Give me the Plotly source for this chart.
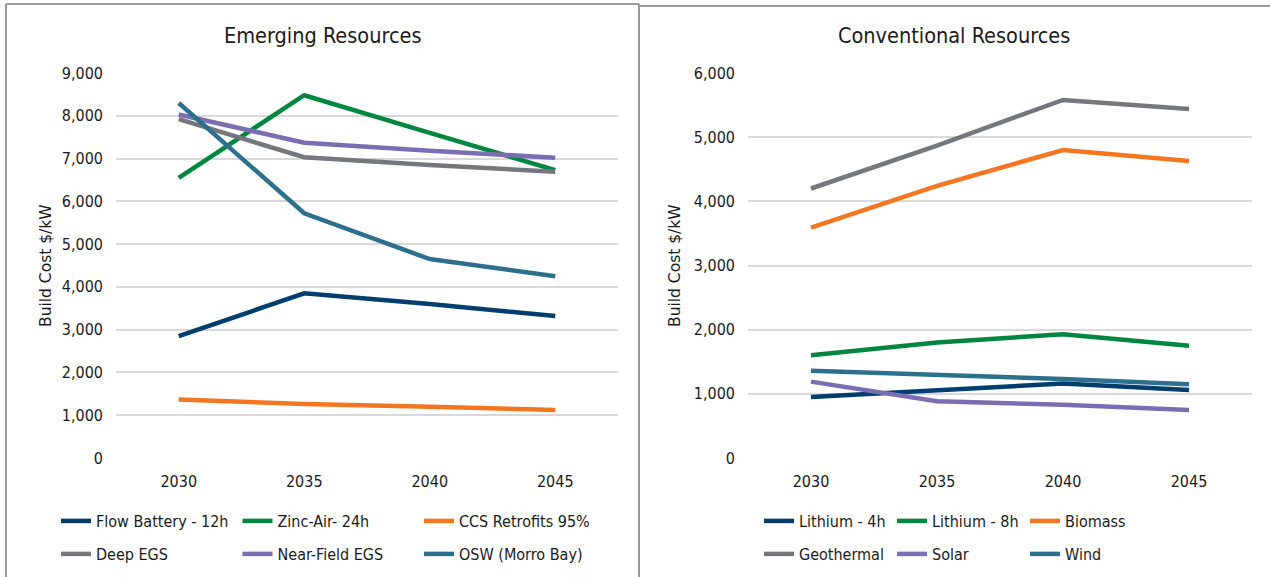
import plotly.graph_objects as go

# Category axis (build years)
years = ["2030", "2035", "2040", "2045"]

# Emerging resources, build cost $/kW
flow_battery_12h = [2850, 3850, 3600, 3320]
zinc_air_24h = [6550, 8480, 7600, 6730]
ccs_retrofits_95 = [1370, 1260, 1200, 1120]
deep_egs = [7920, 7030, 6850, 6690]
near_field_egs = [8030, 7370, 7180, 7020]
osw_morro_bay = [8300, 5720, 4650, 4250]

# Conventional resources, build cost $/kW
lithium_4h = [950, 1050, 1160, 1060]
lithium_8h = [1600, 1800, 1930, 1750]
biomass = [3590, 4240, 4800, 4630]
geothermal = [4200, 4870, 5580, 5440]
solar = [1190, 885, 830, 750]
wind = [1360, 1300, 1230, 1150]

emerging_ticks = list(range(0, 9001, 1000))
conventional_ticks = list(range(0, 6001, 1000))

NAVY = "#023E6D"
GREEN = "#00873F"
ORANGE = "#F47621"
GRAY = "#74777E"
PURPLE = "#7B6DB4"
TEAL = "#2D708E"

W, H = 1270, 577
FONT = "DejaVu Sans Condensed, Liberation Sans, sans-serif"
FONT_WIDE = "DejaVu Sans, sans-serif"
TEXT = "#1a1a1a"


def px_x(p):
    return p / W


def px_y(p):
    return 1 - p / H


fig = go.Figure()

emerging = [
    ("Flow Battery - 12h", flow_battery_12h, NAVY, "legend"),
    ("Zinc-Air- 24h", zinc_air_24h, GREEN, "legend"),
    ("CCS Retrofits 95%", ccs_retrofits_95, ORANGE, "legend"),
    ("Deep EGS", deep_egs, GRAY, "legend2"),
    ("Near-Field EGS", near_field_egs, PURPLE, "legend2"),
    ("OSW (Morro Bay)", osw_morro_bay, TEAL, "legend2"),
]
conventional = [
    ("Lithium - 4h", lithium_4h, NAVY, "legend3"),
    ("Lithium - 8h", lithium_8h, GREEN, "legend3"),
    ("Biomass", biomass, ORANGE, "legend3"),
    ("Geothermal", geothermal, GRAY, "legend4"),
    ("Solar", solar, PURPLE, "legend4"),
    ("Wind", wind, TEAL, "legend4"),
]

for name, vals, color, leg in emerging:
    fig.add_trace(go.Scatter(
        x=years, y=vals, name=name, mode="lines",
        line=dict(color=color, width=4.5),
        xaxis="x", yaxis="y", legend=leg,
    ))
for name, vals, color, leg in conventional:
    fig.add_trace(go.Scatter(
        x=years, y=vals, name=name, mode="lines",
        line=dict(color=color, width=4.5),
        xaxis="x2", yaxis="y2", legend=leg,
    ))

y_dom = [px_y(458), px_y(73)]
axis_font = dict(family=FONT, size=16, color=TEXT)

common_x = dict(type="category", range=[-0.5, 3.5], showgrid=False,
                zeroline=False, showline=False, ticks="",
                tickfont=axis_font, ticklabelstandoff=12)
common_y = dict(showgrid=True, gridcolor="#D9D9D9", gridwidth=1.5,
                zeroline=False, showline=False, ticks="",
                tickformat=",", tickfont=axis_font, ticklabelstandoff=12)

legend_common = dict(
    orientation="h", xanchor="left", yanchor="middle",
    font=dict(family=FONT, size=16, color=TEXT),
    bgcolor="rgba(0,0,0,0)", borderwidth=0,
    entrywidthmode="pixels",
)

fig.update_layout(
    width=W, height=H,
    margin=dict(l=0, r=0, t=0, b=0, autoexpand=False),
    paper_bgcolor="white", plot_bgcolor="white",
    font=dict(family=FONT, color=TEXT),
    xaxis=dict(domain=[px_x(116), px_x(618)], anchor="y", **common_x),
    yaxis=dict(domain=y_dom, anchor="x", range=[0, 9000],
               tickvals=emerging_ticks, **common_y),
    xaxis2=dict(domain=[px_x(748), px_x(1252)], anchor="y2", **common_x),
    yaxis2=dict(domain=y_dom, anchor="x2", range=[0, 6000],
                tickvals=conventional_ticks, **common_y),
    legend=dict(x=px_x(56), y=px_y(521), entrywidth=136.5, **legend_common),
    legend2=dict(x=px_x(56), y=px_y(554), entrywidth=136.5, **legend_common),
    legend3=dict(x=px_x(759), y=px_y(521), entrywidth=88, **legend_common),
    legend4=dict(x=px_x(759), y=px_y(554), entrywidth=88, **legend_common),
    showlegend=True,
)

# Chart titles and value-axis titles
fig.add_annotation(text="Emerging Resources", x=px_x(323), y=px_y(35),
                   xref="paper", yref="paper", showarrow=False,
                   xanchor="center", yanchor="middle",
                   font=dict(family=FONT, size=21.5, color=TEXT))
fig.add_annotation(text="Conventional Resources", x=px_x(954), y=px_y(35),
                   xref="paper", yref="paper", showarrow=False,
                   xanchor="center", yanchor="middle",
                   font=dict(family=FONT, size=21.5, color=TEXT))
for xc in (46, 675):
    fig.add_annotation(text="Build Cost $/kW", x=px_x(xc), y=px_y(266),
                       xref="paper", yref="paper", showarrow=False,
                       xanchor="center", yanchor="middle", textangle=-90,
                       font=dict(family=FONT_WIDE, size=15.5, color=TEXT))

# Panel frames
border = dict(color="#9A9A9A", width=2)
for x0, y0, x1, y1 in [
    (6, 4, 639, 4),      # left panel top
    (6, 4, 6, 577),      # left panel left edge
    (639, 4, 639, 577),  # divider between panels
    (639, 6, 1270, 6),   # right panel top
]:
    fig.add_shape(type="line", xref="paper", yref="paper",
                  x0=px_x(x0), y0=px_y(y0), x1=px_x(x1), y1=px_y(y1),
                  line=border, layer="above")

fig.write_html("out.html")
